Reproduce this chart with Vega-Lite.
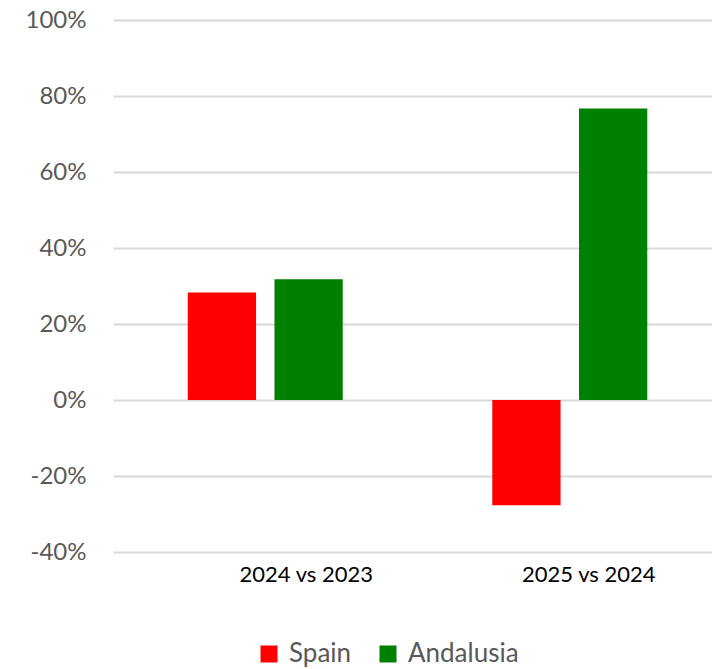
{
  "$schema": "https://vega.github.io/schema/vega-lite/v6.json",
  "width": 599,
  "height": 532,
  "autosize": "none",
  "padding": {"left": 113, "top": 20, "right": 0, "bottom": 117},
  "background": "white",
  "config": {"view": {"stroke": null}, "font": "Lato"},
  "data": {"values": [
    {"period": "2024 vs 2023", "region": "Spain", "change": 0.283},
    {"period": "2024 vs 2023", "region": "Andalusia", "change": 0.318},
    {"period": "2025 vs 2024", "region": "Spain", "change": -0.277},
    {"period": "2025 vs 2024", "region": "Andalusia", "change": 0.767}
  ]},
  "mark": {"type": "bar"},
  "encoding": {
    "x": {
      "field": "period", "type": "nominal",
      "scale": {"paddingInner": 0.491, "paddingOuter": 0.229, "align": 0.536},
      "axis": {
        "title": null, "domain": false, "ticks": false, "labelAngle": 0,
        "labelFontSize": 22, "labelColor": "#000000", "labelPadding": 12,
        "labelOffset": {"condition": {"test": "datum.value == '2024 vs 2023'", "value": 41}, "value": 19}
      }
    },
    "xOffset": {"field": "region", "type": "nominal", "sort": ["Spain", "Andalusia"], "scale": {"paddingInner": 0.2126, "paddingOuter": 0}},
    "y": {
      "field": "change", "type": "quantitative",
      "scale": {"domain": [-0.4, 1.0], "nice": false},
      "axis": {
        "title": null, "domain": false, "ticks": false,
        "values": [-0.4, -0.2, 0, 0.2, 0.4, 0.6, 0.8, 1.0],
        "labelExpr": "round(datum.value * 100) + '%'",
        "labelPadding": 27, "labelFontSize": 24, "labelColor": "#595959",
        "gridColor": "#d9d9d9", "gridWidth": 2
      }
    },
    "color": {
      "field": "region", "type": "nominal",
      "scale": {"domain": ["Spain", "Andalusia"], "range": ["#ff0000", "#008000"]},
      "legend": {
        "title": null, "orient": "none", "legendX": 143, "legendY": 621,
        "direction": "horizontal", "symbolType": "square", "symbolSize": 289,
        "symbolStrokeWidth": 0, "labelFontSize": 26, "labelColor": "#595959",
        "labelOffset": 7, "columnPadding": 23
      }
    }
  }
}
